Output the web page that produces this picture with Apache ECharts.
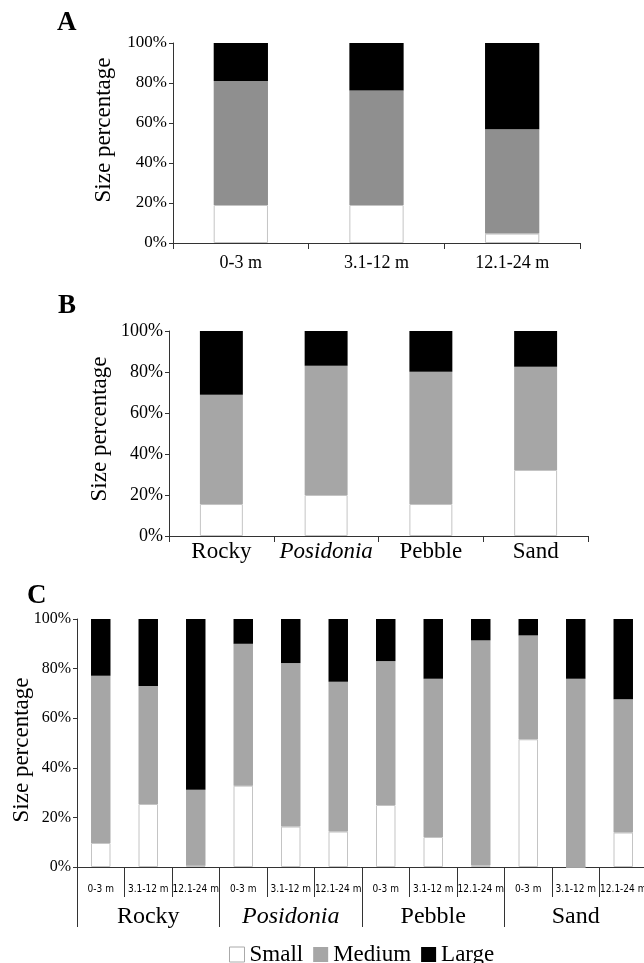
<!DOCTYPE html>
<html>
<head>
<meta charset="utf-8">
<script src="https://cdn.jsdelivr.net/npm/echarts@6/dist/echarts.min.js"></script>
<style>
html,body{margin:0;padding:0;background:#fff;}
#chart{width:644px;height:963px;}
</style>
</head>
<body>
<div id="chart"></div>
<script>
// ---- data ----
const depthCats = ['0-3 m', '3.1-12 m', '12.1-24 m'];
const habitatCats = ['Rocky', 'Posidonia', 'Pebble', 'Sand'];

// Panel A: by depth
const aSmall  = [19.0, 19.0, 4.7];
const aMedium = [62.0, 57.3, 52.2];
const aLarge  = [19.0, 23.7, 43.1];

// Panel B: by habitat
const bSmall  = [15.6, 20.0, 15.6, 32.2];
const bMedium = [53.3, 63.1, 64.5, 50.4];
const bLarge  = [31.1, 16.9, 19.9, 17.4];

// Panel C: habitat x depth
const cCats   = ['0-3 m','3.1-12 m','12.1-24 m','0-3 m','3.1-12 m','12.1-24 m','0-3 m','3.1-12 m','12.1-24 m','0-3 m','3.1-12 m','12.1-24 m'];
const cSmall  = [9.7, 25.4, 0.5, 32.8, 16.3, 14.3, 25.0, 12.1, 0.8, 51.5, 0, 13.9];
const cMedium = [67.4, 47.6, 30.6, 57.2, 65.9, 60.4, 58.0, 63.8, 90.6, 41.9, 75.9, 53.7];
const cLarge  = [22.9, 27.0, 68.9, 10.0, 17.8, 25.3, 17.0, 24.1, 8.6, 6.6, 24.1, 32.4];

// ---- styles ----
const SERIF = "'Liberation Serif','Times New Roman',serif";
const NARROW = "'Liberation Sans Narrow','Arial Narrow','DejaVu Sans Condensed','Liberation Sans',sans-serif";
const AXIS = '#333';
const smallStyle = {color: '#ffffff', borderColor: '#c4c4c4', borderWidth: 1};
const largeStyle = {color: '#000000'};

function yAxis(gridIndex, fontSize, nameGap, pad) {
  return {
    type: 'value', gridIndex, min: 0, max: 100, interval: 20,
    splitLine: {show: false},
    axisLine: {show: true, lineStyle: {color: AXIS, width: 1}},
    axisTick: {show: true, length: 4, lineStyle: {color: AXIS}},
    axisLabel: {formatter: '{value}%', fontFamily: SERIF, fontSize, color: '#000', margin: 6},
    name: 'Size percentage', nameLocation: 'middle', nameGap, nameMoveOverlap: false,
    nameTextStyle: {fontFamily: SERIF, fontSize: 23, color: '#000', padding: pad}
  };
}

function bars(prefix, xi, yi, small, medium, large, medColor, width) {
  return [
    {name: 'Small', type: 'bar', stack: prefix, xAxisIndex: xi, yAxisIndex: yi, data: small, barWidth: width, itemStyle: smallStyle, animation: false},
    {name: 'Medium', type: 'bar', stack: prefix, xAxisIndex: xi, yAxisIndex: yi, data: medium, barWidth: width, itemStyle: {color: medColor}, animation: false},
    {name: 'Large', type: 'bar', stack: prefix, xAxisIndex: xi, yAxisIndex: yi, data: large, barWidth: width, itemStyle: largeStyle, animation: false}
  ];
}

const italicFmt = v => v === 'Posidonia' ? '{i|' + v + '}' : v;

const chart = echarts.init(document.getElementById('chart'), null, {renderer: 'canvas'});
chart.setOption({
  backgroundColor: '#fff',
  animation: false,
  title: [
    {text: 'A', left: 57, top: 10, padding: 0, textStyle: {fontFamily: SERIF, fontWeight: 'bold', fontSize: 27, color: '#000'}},
    {text: 'B', left: 58, top: 293, padding: 0, textStyle: {fontFamily: SERIF, fontWeight: 'bold', fontSize: 27, color: '#000'}},
    {text: 'C', left: 27, top: 583, padding: 0, textStyle: {fontFamily: SERIF, fontWeight: 'bold', fontSize: 27, color: '#000'}}
  ],
  grid: [
    {left: 173, top: 43, width: 407, height: 200, outerBoundsMode: 'none', containLabel: false},
    {left: 169, top: 331, width: 419, height: 205, outerBoundsMode: 'none', containLabel: false},
    {left: 77, top: 619, width: 570, height: 248, outerBoundsMode: 'none', containLabel: false}
  ],
  legend: {
    left: 224, top: 938, itemWidth: 15, itemHeight: 15, itemGap: 10,
    textStyle: {fontFamily: SERIF, fontSize: 23, color: '#000'},
    data: [
      {name: 'Small', icon: 'rect', itemStyle: {color: '#fff', borderColor: '#aaa', borderWidth: 1}},
      {name: 'Medium', icon: 'rect', itemStyle: {color: '#a6a6a6'}},
      {name: 'Large', icon: 'rect', itemStyle: {color: '#000'}}
    ],
    selectedMode: false
  },
  xAxis: [
    {
      type: 'category', gridIndex: 0, data: depthCats,
      axisLine: {show: true, lineStyle: {color: AXIS}},
      axisTick: {show: true, length: 6, interval: 0, lineStyle: {color: AXIS}},
      axisLabel: {fontFamily: SERIF, fontSize: 18, color: '#000', margin: 11, interval: 0}
    },
    {
      type: 'category', gridIndex: 1, data: habitatCats,
      axisLine: {show: true, lineStyle: {color: AXIS}},
      axisTick: {show: true, length: 6, interval: 0, lineStyle: {color: AXIS}},
      axisLabel: {fontFamily: SERIF, fontSize: 23, color: '#000', margin: 4, interval: 0, formatter: italicFmt,
        rich: {i: {fontFamily: SERIF, fontSize: 23, fontStyle: 'italic', color: '#000'}}}
    },
    {
      type: 'category', gridIndex: 2, data: cCats,
      axisLine: {show: true, lineStyle: {color: AXIS}},
      axisTick: {show: true, length: 30, interval: 0, lineStyle: {color: AXIS}},
      axisLabel: {fontFamily: NARROW, fontSize: 10, color: '#000', margin: 17, interval: 0}
    },
    {
      type: 'category', gridIndex: 2, data: habitatCats, position: 'bottom',
      axisLine: {show: false},
      axisTick: {show: true, length: 60, interval: 0, lineStyle: {color: AXIS}},
      axisLabel: {fontFamily: SERIF, fontSize: 24, color: '#000', margin: 38, interval: 0, formatter: italicFmt,
        rich: {i: {fontFamily: SERIF, fontSize: 24, fontStyle: 'italic', color: '#000'}}}
    }
  ],
  yAxis: [
    yAxis(0, 17, 58, [0, 0, 0, 26]),
    yAxis(1, 18, 58, [0, 0, 0, 9]),
    yAxis(2, 16, 44, [0, 14, 0, 0])
  ],
  series: [
    ...bars('a', 0, 0, aSmall, aMedium, aLarge, '#8f8f8f', '40%'),
    ...bars('b', 1, 1, bSmall, bMedium, bLarge, '#a6a6a6', '41%'),
    ...bars('c', 2, 2, cSmall, cMedium, cLarge, '#a6a6a6', '41%')
  ]
});
</script>
</body>
</html>
